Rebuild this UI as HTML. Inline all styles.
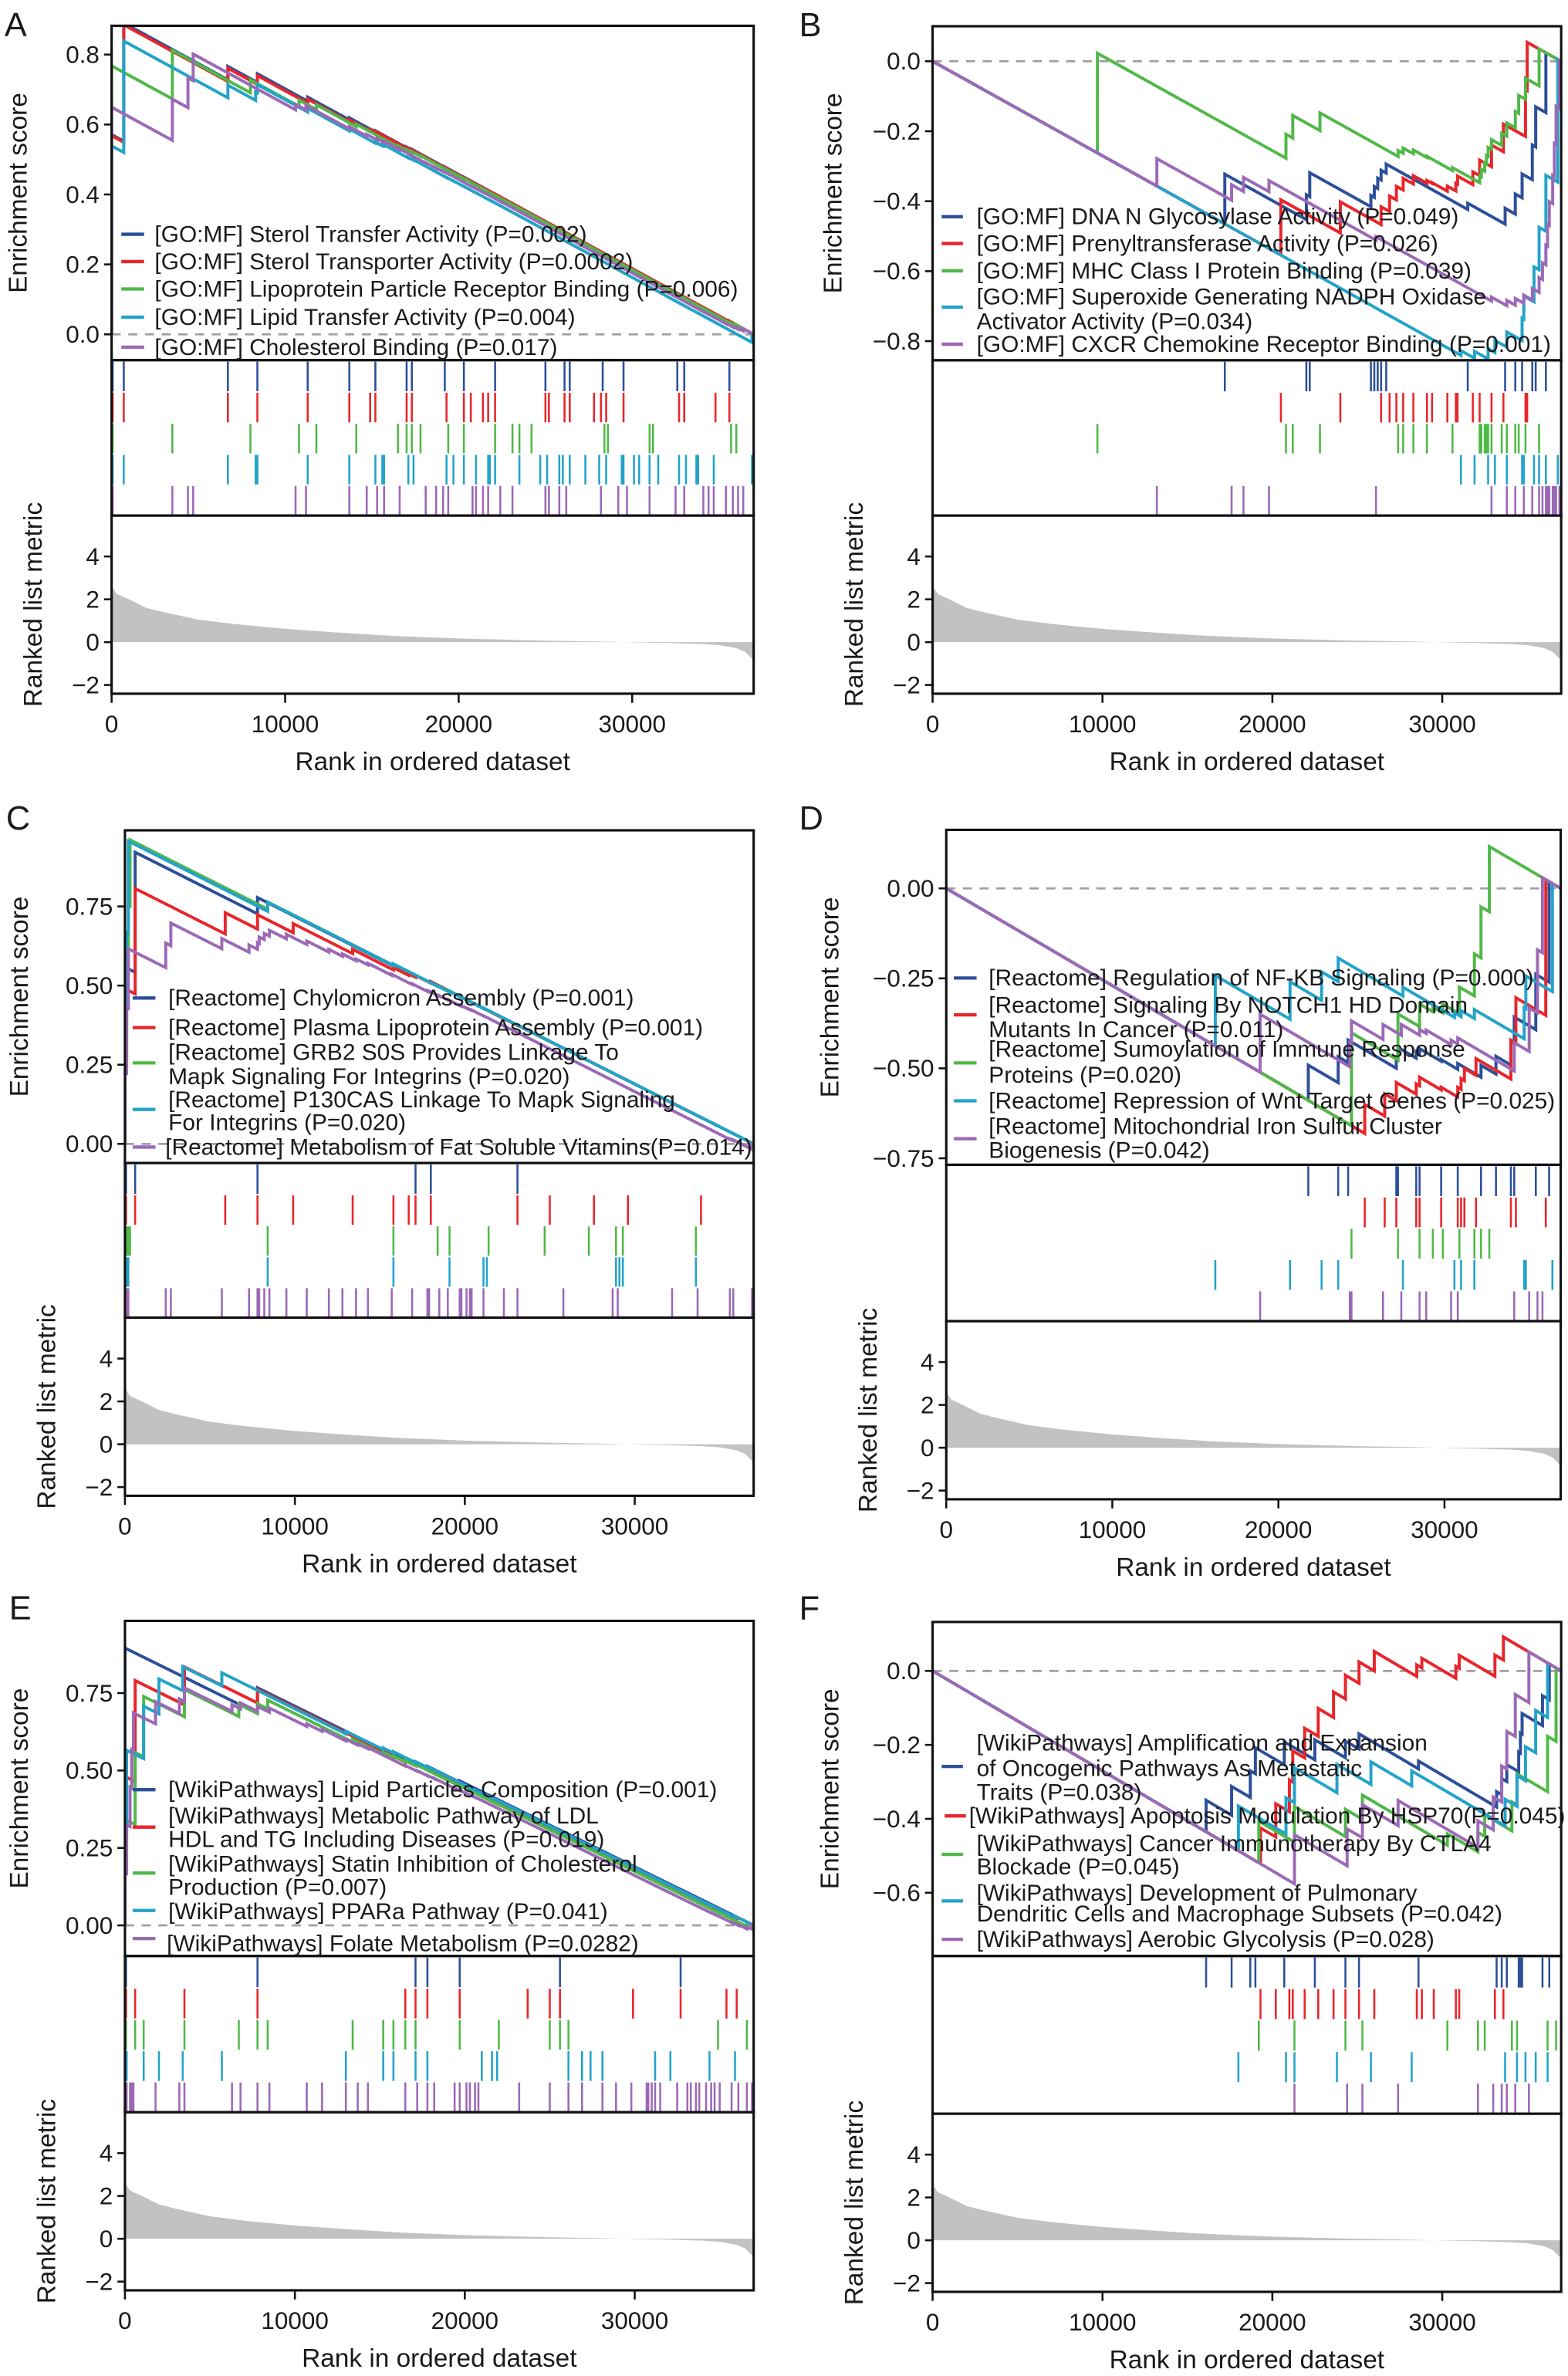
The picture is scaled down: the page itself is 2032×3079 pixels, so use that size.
<!DOCTYPE html>
<html>
<head>
<meta charset="utf-8">
<style>
html,body{margin:0;padding:0;background:#fff;}
svg{display:block;}
text{font-family:"Liberation Sans",Arial,sans-serif;fill:#1a1a1a;}
</style>
</head>
<body>
<svg id="fig" xmlns="http://www.w3.org/2000/svg" width="2032" height="3079" viewBox="0 0 1034 1567" preserveAspectRatio="none"></svg>
<script>
// ---------- data ----------
const N = 37000;
const metricRankK = [0,0.3,1,2,3,5,7,10,13,16,20,25,28,30,32,34,35,36,36.5,37];
const metricVals  = [2.6,2.25,2.0,1.6,1.4,1.05,0.85,0.62,0.45,0.3,0.17,0.07,0.03,-0.01,-0.04,-0.09,-0.14,-0.28,-0.45,-0.85];
const xTicks = [0,10000,20000,30000];
const xTickLabels = ["0","10000","20000","30000"];
const metricTicks = [-2,0,2,4];
const metricTickLabels = ["\u22122","0","2","4"];

// hit ranks (thousands) per series: blue, red, green, cyan, purple
const hitsA = [
 [0,0.7,6.7,8.4,11.3,13.7,15.2,17.0,17.3,19.2,20.3,22.1,25.0,26.1,26.4,28.3,29.5,32.6,33.0,35.6],
 [0,0.7,6.7,8.4,11.3,13.7,14.9,15.2,17.0,17.3,19.3,20.3,20.7,21.4,21.7,22.1,25.0,25.2,26.1,26.4,27.8,28.2,28.5,29.5,32.7,33.0,34.8,35.6],
 [0,3.5,8.0,10.8,11.8,14.1,16.5,17.0,17.3,17.8,19.4,20.3,22.1,23.1,23.5,24.2,28.4,28.6,31.0,31.2,35.7,36.0],
 [0,0.7,6.7,8.3,8.4,11.3,13.7,15.2,15.6,15.7,17.1,17.4,19.3,19.7,20.3,21.0,21.7,21.8,22.1,23.5,24.7,25.1,25.8,26.0,26.4,27.3,28.1,28.5,29.4,29.5,30.1,30.4,31.0,31.5,32.7,33.1,33.7,33.8,34.7,36.9],
 [0,3.5,4.4,4.7,10.6,11.2,13.7,14.7,15.3,15.7,16.6,18.1,18.7,19.1,19.4,20.8,21.0,21.4,21.7,22.4,23.1,25.0,25.2,25.8,26.2,28.2,29.2,29.7,31.0,32.5,33.0,34.1,34.4,34.7,35.4,35.8,36.1,36.4]
];
const hitsB = [
 [17.2,22.0,22.2,25.8,26.0,26.2,26.4,26.7,31.5,33.7,34.3,34.7,35.3,35.5,36.1],
 [20.5,24.0,26.4,26.9,27.3,27.7,28.3,29.1,29.4,30.3,30.8,30.9,31.8,32.2,32.9,33.6,34.9,35.0],
 [9.7,20.8,21.2,22.8,27.4,27.7,28.3,29.1,30.6,32.2,32.3,32.5,32.6,32.7,32.9,33.5,33.8,34.3,34.5,34.9,35.7],
 [31.1,31.9,32.7,33.1,33.8,34.7,34.8,35.4,35.7,36.1,36.8],
 [13.2,17.6,18.3,19.8,26.1,32.9,33.8,34.3,34.8,35.3,35.7,35.9,36.1,36.2,36.3,36.5,36.6,36.7,36.9]
];
const hitsC = [
 [0,0.6,7.8,17.1,18.0,23.1],
 [0,0.6,5.9,7.8,9.9,13.4,15.8,16.7,17.1,18.0,23.1,25.0,27.6,29.6,33.9],
 [0,0.1,0.2,0.3,8.4,15.8,18.4,19.1,21.4,24.7,27.3,28.9,29.3,33.6],
 [0,0.1,0.2,8.4,15.8,19.1,21.1,21.3,28.9,29.1,29.3,33.6],
 [0,0.1,0.2,2.4,2.7,5.7,7.3,7.8,7.9,8.2,8.5,9.5,10.7,12.0,12.8,13.6,14.3,15.7,16.9,17.8,17.9,18.5,19.0,19.7,19.8,20.1,20.3,20.4,21.1,22.3,23.1,25.8,28.7,29.0,32.2,33.7,35.6,35.8,36.9]
];
const hitsD = [
 [21.8,23.6,24.2,27.1,27.2,28.3,28.5,29.8,30.8,32.2,33.1,34.0,34.2,35.5,36.3],
 [25.2,26.4,27.1,28.3,28.5,29.8,30.8,31.0,31.2,31.9,34.0,34.3,36.1],
 [24.4,27.2,28.5,29.3,29.9,30.9,31.8,32.2,32.7],
 [16.2,20.7,22.6,23.6,27.5,30.6,31.0,31.8,34.8,34.9,36.5],
 [18.9,24.3,24.4,26.3,27.4,28.5,28.9,30.4,30.8,34.2,35.1,35.6,35.9]
];
const hitsE = [
 [0,7.8,17.1,17.8,19.7,25.6,32.7],
 [0,0.6,3.5,7.8,16.5,17.1,17.8,19.7,23.7,25.0,25.6,29.9,32.7,35.4,36.0],
 [0,0.6,1.1,3.5,6.7,7.8,8.4,13.4,15.2,15.8,16.5,17.1,19.7,22.0,25.0,25.6,26.1,34.9,36.6],
 [0,0.1,1.1,2.0,3.4,5.7,13.0,15.2,15.8,17.1,17.8,21.0,21.6,21.9,26.1,26.9,27.4,28.1,31.2,32.1,34.4,35.9],
 [0,0.1,0.3,0.4,0.5,1.8,3.2,3.5,6.3,6.8,7.8,8.5,10.7,11.6,13.0,13.7,14.3,16.5,17.2,17.8,18.2,19.4,19.7,20.1,20.3,20.6,20.8,23.2,25.0,26.1,26.9,28.1,28.9,29.8,30.7,30.8,31.0,31.2,31.5,32.5,33.1,33.3,33.6,33.8,34.2,34.5,34.7,35.0,35.7,36.1,36.6,36.9]
];
const hitsF = [
 [16.1,17.6,18.7,19.0,20.7,22.5,24.3,25.1,28.6,33.2,33.5,33.8,34.5,34.6,34.7,35.9,36.3],
 [19.3,20.2,21.0,21.2,21.9,22.7,23.6,24.3,25.1,26.0,28.5,28.8,29.5,30.8,31.0,33.1,33.6],
 [19.2,21.3,24.3,25.3,30.3,32.1,32.5,34.1,34.4,36.2,36.7],
 [18.0,20.8,21.3,23.8,25.8,28.2,33.7,34.4,34.9,35.5,36.2],
 [21.3,24.4,25.3,27.4,32.1,33.0,33.5,33.8,34.3,35.1]
];
// GSEA weighting exponent per panel
const weightPowers = [2.5,1,2,1,2,0.5];
const esTicksA = [0,0.2,0.4,0.6,0.8];
const esTicksB = [0,-0.2,-0.4,-0.6,-0.8];
const esTicksC = [0,0.25,0.5,0.75];
const esTicksD = [0,-0.25,-0.5,-0.75];
const esTicksE = [0,0.25,0.5,0.75];
const esTicksF = [0,-0.2,-0.4,-0.6];

const COLORS = ['#2c4f9a','#e8252a','#50b848','#22a3c9','#9b69b6'];
const SERIES_NAMES = ['blue','red','green','cyan','purple'];

// ---------- layout ----------
const panels = [
 {id:'a',letter:'A',lx:3,ly:24,x0:73.6,x1:497,top:17,esB:237.5,rugB:340,esV0:0,esY0:220.5,esV1:0.8,esY1:36,ticks:esTicksA,dec:1,hits:hitsA,pw:weightPowers[0],esTitleOff:56,
  leg:{mx0:80,mx1:95,tx:102,items:[
   {c:0,my:154.5,lines:[[154.5,'[GO:MF] Sterol Transfer Activity (P=0.002)']]},
   {c:1,my:172.5,lines:[[172.5,'[GO:MF] Sterol Transporter Activity (P=0.0002)']]},
   {c:2,my:190.6,lines:[[190.6,'[GO:MF] Lipoprotein Particle Receptor Binding (P=0.006)']]},
   {c:3,my:209.2,lines:[[209.2,'[GO:MF] Lipid Transfer Activity (P=0.004)']]},
   {c:4,my:229,lines:[[229,'[GO:MF] Cholesterol Binding (P=0.017)']]}]}},
 {id:'b',letter:'B',lx:527,ly:24,x0:615,x1:1029.5,top:17.3,esB:237.6,rugB:340,esV0:0,esY0:40.4,esV1:-0.8,esY1:225,ticks:esTicksB,dec:1,hits:hitsB,pw:weightPowers[1],esTitleOff:60,
  leg:{mx0:621,mx1:635,tx:644,items:[
   {c:0,my:142.9,lines:[[142.9,'[GO:MF] DNA N Glycosylase Activity (P=0.049)']]},
   {c:1,my:160.6,lines:[[160.6,'[GO:MF] Prenyltransferase Activity (P=0.026)']]},
   {c:2,my:178.6,lines:[[178.6,'[GO:MF] MHC Class I Protein Binding (P=0.039)']]},
   {c:3,my:202.6,lines:[[195.7,'[GO:MF] Superoxide Generating NADPH Oxidase'],[212,'Activator Activity (P=0.034)']]},
   {c:4,my:227,lines:[[227,'[GO:MF] CXCR Chemokine Receptor Binding (P=0.001)']]}]}},
 {id:'c',letter:'C',lx:4,ly:547,x0:82.4,x1:497,top:547.6,esB:767,rugB:869,esV0:0,esY0:754.4,esV1:0.75,esY1:597.8,ticks:esTicksC,dec:2,hits:hitsC,pw:weightPowers[2],esTitleOff:64,
  leg:{mx0:87.5,mx1:102.5,tx:111,items:[
   {c:0,my:658.2,lines:[[658.2,'[Reactome] Chylomicron Assembly (P=0.001)']]},
   {c:1,my:677.7,lines:[[677.7,'[Reactome] Plasma Lipoprotein Assembly (P=0.001)']]},
   {c:2,my:701,lines:[[693.9,'[Reactome] GRB2 S0S Provides Linkage To'],[710,'Mapk Signaling For Integrins (P=0.020)']]},
   {c:3,my:731.7,lines:[[725.4,'[Reactome] P130CAS Linkage To Mapk Signaling'],[740.3,'For Integrins (P=0.020)']]},
   {c:4,my:756.5,lines:[[756.5,'[Reactome] Metabolism of Fat Soluble Vitamins(P=0.014)']],tx:109}]}},
 {id:'d',letter:'D',lx:527,ly:547,x0:624,x1:1029.2,top:547.3,esB:768.2,rugB:871.3,esV0:0,esY0:585.9,esV1:-0.75,esY1:763.9,ticks:esTicksD,dec:2,hits:hitsD,pw:weightPowers[3],esTitleOff:71,
  leg:{mx0:629,mx1:644,tx:652,items:[
   {c:0,my:645,lines:[[645,'[Reactome] Regulation of NF-KB Signaling (P=0.000)']]},
   {c:1,my:669.3,lines:[[663,'[Reactome] Signaling By NOTCH1 HD Domain'],[679,'Mutants In Cancer (P=0.011)']]},
   {c:2,my:701,lines:[[692,'[Reactome] Sumoylation of Immune Response'],[709,'Proteins (P=0.020)']]},
   {c:3,my:726,lines:[[726,'[Reactome] Repression of Wnt Target Genes (P=0.025)']]},
   {c:4,my:751,lines:[[743,'[Reactome] Mitochondrial Iron Sulfur Cluster'],[758.6,'Biogenesis (P=0.042)']]}]}},
 {id:'e',letter:'E',lx:6,ly:1068,x0:82.4,x1:497,top:1069,esB:1290,rugB:1393,esV0:0,esY0:1269.8,esV1:0.75,esY1:1116.6,ticks:esTicksE,dec:2,hits:hitsE,pw:weightPowers[4],esTitleOff:64,
  leg:{mx0:87.5,mx1:102.5,tx:111,items:[
   {c:0,my:1180.3,lines:[[1180.3,'[WikiPathways] Lipid Particles Composition (P=0.001)']]},
   {c:1,my:1205,lines:[[1197.6,'[WikiPathways] Metabolic Pathway of LDL'],[1213.1,'HDL and TG Including Diseases (P=0.019)']]},
   {c:2,my:1235.3,lines:[[1229.5,'[WikiPathways] Statin Inhibition of Cholesterol'],[1244.6,'Production (P=0.007)']]},
   {c:3,my:1260,lines:[[1260.6,'[WikiPathways] PPARa Pathway (P=0.041)']]},
   {c:4,my:1278.5,lines:[[1281.8,'[WikiPathways] Folate Metabolism (P=0.0282)']],tx:110}]}},
 {id:'f',letter:'F',lx:527,ly:1068,x0:615,x1:1029.5,top:1069.7,esB:1290,rugB:1394,esV0:0,esY0:1102,esV1:-0.6,esY1:1248.3,ticks:esTicksF,dec:1,hits:hitsF,pw:weightPowers[5],esTitleOff:62,
  leg:{mx0:621,mx1:635,tx:644,items:[
   {c:0,my:1165,lines:[[1149.6,'[WikiPathways] Amplification and Expansion'],[1166.2,'of Oncogenic Pathways As Metastatic'],[1182,'Traits (P=0.038)']]},
   {c:1,my:1197.6,lines:[[1197.6,'[WikiPathways] Apoptosis Modulation By HSP70(P=0.045)']],tx:639,mx0:623,mx1:637},
   {c:2,my:1223,lines:[[1215.9,'[WikiPathways] Cancer Immunotherapy By CTLA4'],[1231.1,'Blockade (P=0.045)']]},
   {c:3,my:1253.7,lines:[[1248.4,'[WikiPathways] Development of Pulmonary'],[1262.3,'Dendritic Cells and Macrophage Subsets (P=0.042)']]},
   {c:4,my:1279,lines:[[1279,'[WikiPathways] Aerobic Glycolysis (P=0.028)']]}]}}
];

const NS = 'http://www.w3.org/2000/svg';
const svg = document.getElementById('fig');
function mk(tag, attrs, parent){
  const e = document.createElementNS(NS, tag);
  for (const k in attrs) e.setAttribute(k, attrs[k]);
  (parent||svg).appendChild(e);
  return e;
}
function metricAt(r){
  const k = r/1000;
  if (k <= metricRankK[0]) return metricVals[0];
  for (let i=1;i<metricRankK.length;i++){
    if (k <= metricRankK[i]){
      const t=(k-metricRankK[i-1])/(metricRankK[i]-metricRankK[i-1]);
      return metricVals[i-1]+t*(metricVals[i]-metricVals[i-1]);
    }
  }
  return metricVals[metricVals.length-1];
}
function fmt(v,dec){ const s=Math.abs(v).toFixed(dec); return (v<0?'\u2212':'')+s; }

const defs = mk('defs',{});

panels.forEach(p=>{
  const g = mk('g',{});
  
  
  const xs = r => p.x0 + (r/N)*(p.x1-p.x0);
  const ys = v => p.esY0 + (v-p.esV0)*(p.esY1-p.esY0)/(p.esV1-p.esV0);
  const m0 = p.rugB+83.5, m4 = p.rugB+27;
  const ym = v => m0 + v*(m4-m0)/4;
  const metB = p.rugB+117.5;

  const L = mk('text',{x:p.lx,y:p.ly,'font-size':22},g);
  L.textContent = p.letter;
  
  

  const cp = mk('clipPath',{id:'clip-'+p.id},defs);
  mk('rect',{x:p.x0,y:p.top,width:p.x1-p.x0,height:p.esB-p.top},cp);

  const z = mk('line',{x1:p.x0,x2:p.x1,y1:ys(0),y2:ys(0),stroke:'#a0a0a0','stroke-width':1.4,'stroke-dasharray':'6,5'},g);
  
  

  const esG = mk('g',{'clip-path':'url(#clip-'+p.id+')'},g);
  
  
  p.hits.forEach((hk,si)=>{
    const hits = hk.map(k=>k*1000).sort((a,b)=>a-b);
    const w = hits.map(r=>Math.pow(Math.abs(metricAt(r)), p.pw));
    const W = w.reduce((a,b)=>a+b,0);
    let P = 0;
    let d = 'M'+xs(0).toFixed(2)+','+ys(0).toFixed(2);
    hits.forEach((r,i)=>{
      const before = P - r/N;
      P += w[i]/W;
      const after = P - r/N;
      d += ' L'+xs(r).toFixed(2)+','+ys(before).toFixed(2)+' L'+xs(r).toFixed(2)+','+ys(after).toFixed(2);
    });
    d += ' L'+xs(N).toFixed(2)+','+ys(P-1).toFixed(2);
    const path = mk('path',{d:d,fill:'none',stroke:COLORS[si],'stroke-width':2,'stroke-linejoin':'miter'},esG);
    
    
  });

  const rh = (p.rugB-p.esB)/5;
  p.hits.forEach((hk,si)=>{
    const rg = mk('g',{stroke:COLORS[si],'stroke-width':1.3},g);
    
    
    hk.forEach(k=>{
      const x = Math.min(Math.max(xs(k*1000),p.x0+0.7),p.x1-0.7);
      const ln = mk('line',{x1:x,x2:x,y1:p.esB+si*rh+1,y2:p.esB+(si+1)*rh},rg);
      
      
    });
  });

  let md = 'M'+xs(0).toFixed(2)+','+ym(0).toFixed(2);
  metricRankK.forEach((k,i)=>{ md += ' L'+xs(k*1000).toFixed(2)+','+ym(metricVals[i]).toFixed(2); });
  md += ' L'+xs(N).toFixed(2)+','+ym(0).toFixed(2)+' Z';
  const ma = mk('path',{d:md,fill:'#c2c2c2',stroke:'none'},g);
  
  

  [[p.top,p.esB,'es-frame'],[p.esB,p.rugB,'rug-frame'],[p.rugB,metB,'metric-frame']].forEach(f=>{
    const r = mk('rect',{x:p.x0,y:f[0],width:p.x1-p.x0,height:f[1]-f[0],fill:'none',stroke:'#111','stroke-width':1.6},g);
    
    
  });

  p.ticks.forEach(v=>{
    const y = ys(v);
    mk('line',{x1:p.x0-5,x2:p.x0,y1:y,y2:y,stroke:'#111','stroke-width':1.3},g);
    const t = mk('text',{x:p.x0-8,y:y+5.5,'text-anchor':'end','font-size':16},g);
    t.textContent = fmt(v,p.dec);
    
    
  });
  metricTicks.forEach((v,i)=>{
    const y = ym(v);
    mk('line',{x1:p.x0-5,x2:p.x0,y1:y,y2:y,stroke:'#111','stroke-width':1.3},g);
    const t = mk('text',{x:p.x0-8,y:y+5.5,'text-anchor':'end','font-size':16},g);
    t.textContent = metricTickLabels[i];
    
    
  });
  xTicks.forEach((v,i)=>{
    const x = xs(v);
    mk('line',{x1:x,x2:x,y1:metB,y2:metB+6,stroke:'#111','stroke-width':1.3},g);
    const t = mk('text',{x:x,y:p.rugB+143,'text-anchor':'middle','font-size':16},g);
    t.textContent = xTickLabels[i];
    
    
  });
  const xt = mk('text',{x:(p.x0+p.x1)/2,y:p.rugB+168,'text-anchor':'middle','font-size':17},g);
  xt.textContent = 'Rank in ordered dataset';
  
  
  const ecx = p.x0-p.esTitleOff, ecy = (p.top+p.esB)/2;
  const et = mk('text',{x:ecx,y:ecy,'text-anchor':'middle','font-size':17,transform:'rotate(-90 '+ecx+' '+ecy+')'},g);
  et.textContent = 'Enrichment score';
  
  
  const mcx = p.x0-46, mcy = (p.rugB+metB)/2;
  const mt = mk('text',{x:mcx,y:mcy,'text-anchor':'middle','font-size':17,transform:'rotate(-90 '+mcx+' '+mcy+')'},g);
  mt.textContent = 'Ranked list metric';
  
  

  const lg = mk('g',{},g);
  
  
  p.leg.items.forEach((it,i)=>{
    const eg = mk('g',{},lg);
    
    
    const mx0 = it.mx0||p.leg.mx0, mx1 = it.mx1||p.leg.mx1;
    mk('line',{x1:mx0,x2:mx1,y1:it.my,y2:it.my,stroke:COLORS[it.c],'stroke-width':2.2},eg);
    it.lines.forEach(l=>{
      const t = mk('text',{x:it.tx||p.leg.tx,y:l[0]+5,'font-size':15.2},eg);
      t.textContent = l[1];
    });
  });
});
</script>
</body>
</html>
